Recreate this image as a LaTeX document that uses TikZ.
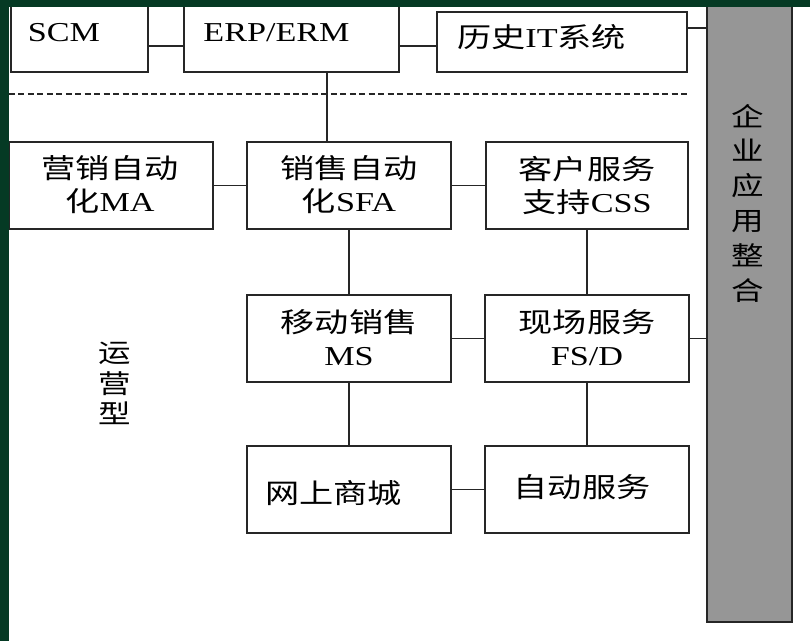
\documentclass[tikz,border=0pt]{standalone}
\usepackage{fontspec}
\setmainfont{Liberation Serif}[FakeStretch=1.25]
\newfontfamily\cjk{Noto Sans CJK SC}[FakeStretch=1.25]
\newcommand\zh[1]{{\cjk #1}}
\usetikzlibrary{fit}
\definecolor{frame}{HTML}{053A24}
\definecolor{bargray}{HTML}{969696}
\definecolor{ink}{HTML}{262626}
\begin{document}
\begin{tikzpicture}[x=0.75pt,y=-0.75pt,
  box/.style={draw=ink, line width=0.9pt, fill=white, inner sep=0pt, rectangle},
  bar/.style={draw=ink, line width=1.1pt, fill=bargray, inner sep=0pt, rectangle},
  lbl/.style={font=\fontsize{20.5}{24.75}\selectfont, align=center, inner sep=0pt},
  vlbl/.style={font=\fontsize{19.5}{22.9}\selectfont, align=center, inner sep=0pt},
  vlblbar/.style={font=\fontsize{19.5}{26.1}\selectfont, align=center, inner sep=0pt},
  wire/.style={draw=ink, line width=0.8pt}]
\useasboundingbox (0,0) rectangle (810,641);
\clip (0,0) rectangle (810,641);
\fill[white] (0,0) rectangle (810,641);

% boxes
\node[box, fit={(11,-10) (148,72)}] (scm) {};
\node[box, fit={(184,-10) (399,72)}] (erp) {};
\node[box, fit={(437,12) (687,72)}] (hist) {};
\node[bar, fit={(707,-10) (792,622)}] (eai) {};
\node[box, fit={(9,142) (213,229)}] (ma) {};
\node[box, fit={(247,142) (451,229)}] (sfa) {};
\node[box, fit={(486,142) (688,229)}] (css) {};
\node[box, fit={(247,295) (451,382)}] (ms) {};
\node[box, fit={(485,295) (689,382)}] (fsd) {};
\node[box, fit={(247,446) (451,533)}] (shop) {};
\node[box, fit={(485,446) (689,533)}] (auto) {};

% texts
\node[lbl, anchor=base] (tscm) at (64,42) {SCM};
\node[lbl, anchor=base] (terp) at (276.5,42) {ERP/ERM};
\node[lbl] (thist) at (541.5,37) {\zh{历史}IT\zh{系统}};
\node[lbl] (tma) at (110,185) {\zh{营销自动}\\\zh{化}MA};
\node[lbl] (tsfa) at (349,185) {\zh{销售自动}\\\zh{化}SFA};
\node[lbl] (tcss) at (587,185) {\zh{客户服务}\\\zh{支持}CSS};
\node[lbl] (tms) at (349,337.5) {\zh{移动销售}\\MS};
\node[lbl] (tfsd) at (587,337.5) {\zh{现场服务}\\FS/D};
\node[lbl] (tshop) at (333.5,493) {\zh{网上商城}};
\node[lbl] (tauto) at (582,487) {\zh{自动服务}};
\node[vlbl] (tops) at (115,383.5) {\zh{运}\\\zh{营}\\\zh{型}};
\node[vlblbar] (teai) at (748,203) {\zh{企}\\\zh{业}\\\zh{应}\\\zh{用}\\\zh{整}\\\zh{合}};

% connectors
\path ([yshift=-11.25pt]scm.east) coordinate (c1);
\draw[wire] (c1) -- (c1 -| erp.west);
\path ([yshift=-3pt]hist.west) coordinate (c2);
\draw[wire] (erp.east |- c2) -- (c2);
\path ([yshift=10.5pt]hist.east) coordinate (c3);
\draw[wire] (c3) -- (c3 -| eai.west);
\path ([xshift=26.625pt]erp.south) coordinate (c4);
\draw[wire] (c4) -- (c4 |- sfa.north);
\draw[wire] (ma.east) -- (sfa.west);
\draw[wire] (sfa.east) -- (css.west);
\draw[wire] (sfa.south) -- (ms.north);
\draw[wire] (css.south) -- (fsd.north);
\draw[wire] (ms.east) -- (fsd.west);
\draw[wire] (fsd.east) -- (fsd.east -| eai.west);
\draw[wire] (ms.south) -- (shop.north);
\draw[wire] (fsd.south) -- (auto.north);
\draw[wire] (shop.east) -- (auto.west);

% dashed separator
\draw[ink, line width=0.8pt, dash pattern=on 4.5pt off 2.6pt] (9,94) -- (690,94);

% dark frame
\fill[frame] (0,0) rectangle (810,7);
\fill[frame] (0,0) rectangle (9,641);
\end{tikzpicture}
\end{document}
